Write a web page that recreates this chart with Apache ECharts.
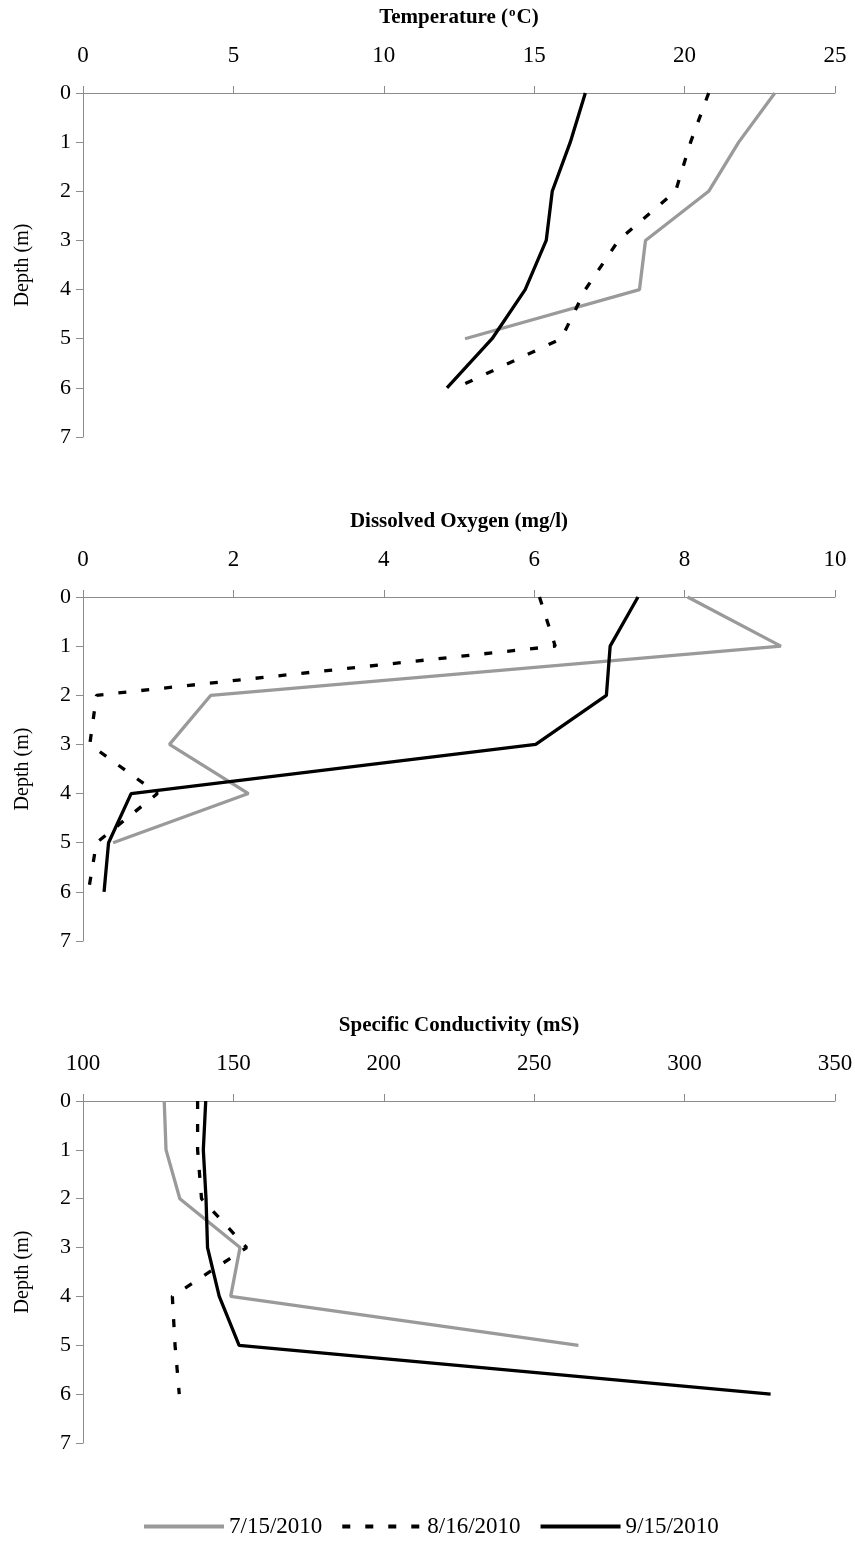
<!DOCTYPE html>
<html>
<head>
<meta charset="utf-8">
<script src="https://cdn.jsdelivr.net/npm/echarts@6/dist/echarts.min.js"></script>
<style>
html,body{margin:0;padding:0;background:#fff;}
#c{width:855px;height:1544px;}
</style>
</head>
<body>
<div id="c"></div>
<script>
// ---- data ----
const depths = [0, 1, 2, 3, 4, 5, 6];
const seriesNames = ['7/15/2010', '8/16/2010', '9/15/2010'];

const tempJul = [23.0, 21.8, 20.8, 18.7, 18.5, 12.7];
const tempAug = [20.8, 20.2, 19.7, 17.8, 16.7, 15.9, 12.4];
const tempSep = [16.7, 16.2, 15.6, 15.4, 14.7, 13.6, 12.1];

const doJul = [8.04, 9.28, 1.70, 1.15, 2.20, 0.40];
const doAug = [6.07, 6.28, 0.18, 0.09, 0.99, 0.18, 0.07];
const doSep = [7.38, 7.01, 6.96, 6.02, 0.64, 0.34, 0.28];

const condJul = [127.0, 127.6, 132.2, 152.2, 149.1, 264.7];
const condAug = [138.1, 138.1, 139.4, 154.4, 129.7, 130.6, 132.0];
const condSep = [140.8, 140.0, 140.9, 141.4, 145.3, 151.9, 328.6];

const tempTicks = {min: 0, max: 25, interval: 5};
const doTicks = {min: 0, max: 10, interval: 2};
const condTicks = {min: 100, max: 350, interval: 50};
const depthTicks = {min: 0, max: 7, interval: 1};

// ---- build ----
const FONT = '"Liberation Serif", "Times New Roman", serif';
const AX = '#8c8c8c';
const styles = [
  {color: '#9a9a9a', type: 'solid'},
  {color: '#000000', type: [8, 15]},
  {color: '#000000', type: 'solid'}
];
const panels = [
  {vals: [tempJul, tempAug, tempSep], ticks: tempTicks, top: 93, height: 344, titleY: 18,
   title: '{b|Temperature (}{sup|o}{b|C)}'},
  {vals: [doJul, doAug, doSep], ticks: doTicks, top: 597, height: 344, titleY: 522,
   title: '{b|Dissolved Oxygen (mg/l)}'},
  {vals: [condJul, condAug, condSep], ticks: condTicks, top: 1101, height: 342, titleY: 1026,
   title: '{b|Specific Conductivity (mS)}'}
];

const grids = [], xAxes = [], yAxes = [], series = [], graphics = [];
panels.forEach((p, i) => {
  grids.push({left: 83, right: 20, top: p.top, height: p.height, containLabel: false, outerBoundsMode: 'none'});
  xAxes.push({
    type: 'value', gridIndex: i, position: 'top',
    min: p.ticks.min, max: p.ticks.max, interval: p.ticks.interval,
    axisLine: {show: true, lineStyle: {color: AX, width: 1}},
    axisTick: {show: true, inside: false, length: 7, lineStyle: {color: AX}},
    splitLine: {show: false},
    axisLabel: {margin: 26, fontFamily: FONT, fontSize: 23, color: '#000'}
  });
  yAxes.push({
    type: 'value', gridIndex: i, inverse: true,
    min: depthTicks.min, max: depthTicks.max, interval: depthTicks.interval,
    name: 'Depth (m)', nameLocation: 'middle', nameGap: 50, nameRotate: 90,
    nameTextStyle: {fontFamily: FONT, fontSize: 20, color: '#000'},
    axisLine: {show: true, lineStyle: {color: AX, width: 1}},
    axisTick: {show: true, inside: false, length: 7, lineStyle: {color: AX}},
    splitLine: {show: false},
    axisLabel: {margin: 12, fontFamily: FONT, fontSize: 22, color: '#000'}
  });
  graphics.push({
    type: 'text', x: 459, y: p.titleY,
    style: {
      text: p.title, align: 'center', verticalAlign: 'middle',
      rich: {
        b: {fontFamily: FONT, fontSize: 21, fontWeight: 'bold', fill: '#000', color: '#000'},
        sup: {fontFamily: FONT, fontSize: 13, fontWeight: 'bold', fill: '#000', color: '#000', padding: [0, 1, 10, 1]}
      }
    }
  });
  p.vals.forEach((arr, k) => {
    series.push({
      name: seriesNames[k], type: 'line', xAxisIndex: i, yAxisIndex: i,
      data: arr.map((v, j) => [v, depths[j]]),
      symbol: 'none', showSymbol: false, smooth: false, animation: false,
      lineStyle: {color: styles[k].color, width: 3.3, type: styles[k].type, cap: 'butt'},
      itemStyle: {color: styles[k].color}
    });
  });
});

const chart = echarts.init(document.getElementById('c'), null, {renderer: 'canvas'});
chart.setOption({
  backgroundColor: '#fff',
  animation: false,
  graphic: graphics,
  grid: grids,
  xAxis: xAxes,
  yAxis: yAxes,
  legend: {
    data: seriesNames, left: 137, top: 1510,
    itemWidth: 80, itemHeight: 14, itemGap: 18,
    itemStyle: {opacity: 0},
    lineStyle: {width: 4},
    textStyle: {fontFamily: FONT, fontSize: 23, color: '#000'}
  },
  series: series
});
</script>
</body>
</html>
